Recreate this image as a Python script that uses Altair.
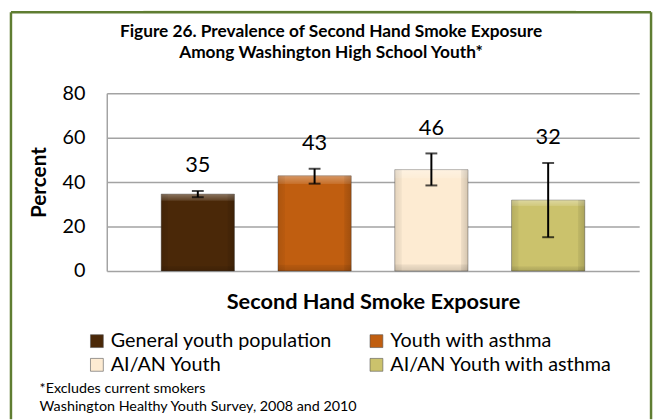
import altair as alt
import pandas as pd

# ---- data -------------------------------------------------------------
groups = ["General youth population", "Youth with asthma", "AI/AN Youth", "AI/AN Youth with asthma"]
values = [34.6, 42.8, 45.6, 31.9]
lower = [33.2, 39.3, 38.5, 15.2]
upper = [36.0, 46.0, 52.9, 48.6]
labels = ["35", "43", "46", "32"]
colors = ["#4a2808", "#c05e10", "#fdebd2", "#cbc26c"]
y_ticks = [0, 20, 40, 60, 80]
title_lines = ["Figure 26. Prevalence of Second Hand Smoke Exposure",
               "Among Washington High School Youth*"]
x_title = "Second Hand Smoke Exposure"
y_title = "Percent"
footnotes = ["*Excludes current smokers", "Washington Healthy Youth Survey, 2008 and 2010"]

df = pd.DataFrame({"group": groups, "value": values, "lo": lower, "hi": upper, "label": labels})

# legend fills column by column; this order gives the reference's row layout
legend_order = [groups[0], groups[2], groups[1], groups[3]]

FONT = "Lato"
W, H = 539, 180
GRID = "#a3a3a3"
FRAME = "#5f7d32"

x_enc = alt.X("group:N", sort=groups,
              scale=alt.Scale(paddingInner=0.373, paddingOuter=0.466),
              axis=alt.Axis(labels=False, ticks=False, domain=False, grid=False,
                            title=x_title, titleFont=FONT, titleFontSize=22,
                            titleFontWeight="bold", titleColor="black",
                            titleY=31, titleBaseline="middle"))

y_enc = alt.Y("value:Q", scale=alt.Scale(domain=[0, 80]),
              axis=alt.Axis(values=y_ticks, ticks=False, domain=True, domainColor=GRID,
                            domainWidth=1.5, grid=True, gridColor=GRID, gridWidth=1.5,
                            labelFont=FONT, labelFontSize=20, labelColor="black",
                            labelPadding=22, title=y_title, titleFont=FONT,
                            titleFontSize=21, titleFontWeight="bold", titleColor="black",
                            titleX=-68, titleY=90, titleAngle=270, titleAlign="center",
                            titleBaseline="middle"))

bars = alt.Chart(df).mark_bar(stroke="#3a3a3a", strokeWidth=0.8, strokeOpacity=0.5).encode(
    x=x_enc,
    y=y_enc,
    color=alt.Color("group:N", sort=groups,
                    scale=alt.Scale(domain=groups, range=colors),
                    legend=alt.Legend(orient="none", legendX=-20, legendY=241, columns=2,
                                      values=legend_order,
                                      title=None, symbolType="square", symbolSize=169,
                                      symbolStrokeColor="#555555", symbolStrokeWidth=0.6,
                                      labelFont=FONT, labelFontSize=20, labelColor="black",
                                      labelOffset=4, rowPadding=4, columnPadding=34,
                                      gridAlign="all", padding=0, labelLimit=400)),
)

# bevel shading overlays (style only)
vgrad = alt.LinearGradient(gradient="linear", x1=0, x2=0, y1=0, y2=1, stops=[
    alt.GradientStop(color="rgba(255,255,255,0.35)", offset=0),
    alt.GradientStop(color="rgba(255,255,255,0.12)", offset=0.08),
    alt.GradientStop(color="rgba(255,255,255,0)", offset=0.09),
    alt.GradientStop(color="rgba(0,0,0,0)", offset=0.93),
    alt.GradientStop(color="rgba(0,0,0,0.06)", offset=0.94),
    alt.GradientStop(color="rgba(0,0,0,0.15)", offset=1),
])
hgrad = alt.LinearGradient(gradient="linear", x1=0, x2=1, y1=0, y2=0, stops=[
    alt.GradientStop(color="rgba(0,0,0,0.10)", offset=0),
    alt.GradientStop(color="rgba(0,0,0,0.04)", offset=0.09),
    alt.GradientStop(color="rgba(0,0,0,0)", offset=0.10),
    alt.GradientStop(color="rgba(0,0,0,0)", offset=0.90),
    alt.GradientStop(color="rgba(0,0,0,0.06)", offset=0.91),
    alt.GradientStop(color="rgba(0,0,0,0.16)", offset=1),
])
shade_v = alt.Chart(df).mark_bar(fill=vgrad, strokeWidth=0).encode(
    x=alt.X("group:N", sort=groups), y="value:Q")
shade_h = alt.Chart(df).mark_bar(fill=hgrad, strokeWidth=0).encode(
    x=alt.X("group:N", sort=groups), y="value:Q")

err = alt.Chart(df).mark_rule(color="black", strokeWidth=2).encode(
    x=alt.X("group:N", sort=groups), y="lo:Q", y2="hi:Q")
cap_hi = alt.Chart(df).mark_tick(color="black", size=12, thickness=2, orient="horizontal").encode(
    x=alt.X("group:N", sort=groups), y="hi:Q")
cap_lo = alt.Chart(df).mark_tick(color="black", size=12, thickness=2, orient="horizontal").encode(
    x=alt.X("group:N", sort=groups), y="lo:Q")
text = alt.Chart(df).mark_text(dy=-26, font=FONT, fontSize=22, color="black").encode(
    x=alt.X("group:N", sort=groups), y="hi:Q", text="label:N")

one = alt.Data(values=[{}])
frame_left = alt.Chart(one).mark_rule(color=FRAME, strokeWidth=2.5).encode(
    x=alt.value(-97), y=alt.value(-82), y2=alt.value(330))
frame_right = alt.Chart(one).mark_rule(color=FRAME, strokeWidth=2.5).encode(
    x=alt.value(551), y=alt.value(-82), y2=alt.value(330))
frame_top = alt.Chart(one).mark_rule(color=FRAME, strokeWidth=2.5).encode(
    x=alt.value(-97), x2=alt.value(551), y=alt.value(-82))
top_box = alt.Chart(one).mark_rect(color="#ebf1de").encode(
    x=alt.value(37), x2=alt.value(475), y=alt.value(-84), y2=alt.value(-83))

t1 = alt.Chart(one).mark_text(text=title_lines[0], font=FONT, fontSize=17.5, fontWeight="bold",
                              color="black", align="center", baseline="middle").encode(
    x=alt.value(227), y=alt.value(-62))
t2 = alt.Chart(one).mark_text(text=title_lines[1], font=FONT, fontSize=17.5, fontWeight="bold",
                              color="black", align="center", baseline="middle").encode(
    x=alt.value(227), y=alt.value(-41))
f1 = alt.Chart(one).mark_text(text=footnotes[0], font=FONT, fontSize=14.5, color="black",
                              align="left", baseline="middle").encode(
    x=alt.value(-68), y=alt.value(300))
f2 = alt.Chart(one).mark_text(text=footnotes[1], font=FONT, fontSize=14.5, color="black",
                              align="left", baseline="middle").encode(
    x=alt.value(-68), y=alt.value(318))

chart = alt.layer(top_box, frame_left, frame_right, frame_top, bars, shade_v, shade_h,
                  err, cap_hi, cap_lo, text, t1, t2, f1, f2).properties(
    width=W, height=H,
    autosize=alt.AutoSizeParams(type="none"),
    padding={"left": 100, "top": 83.7, "right": 16, "bottom": 148.3},
    background="white",
).configure_view(stroke=None)

chart.save("out.html", embed_options={"renderer": "svg", "actions": False})
